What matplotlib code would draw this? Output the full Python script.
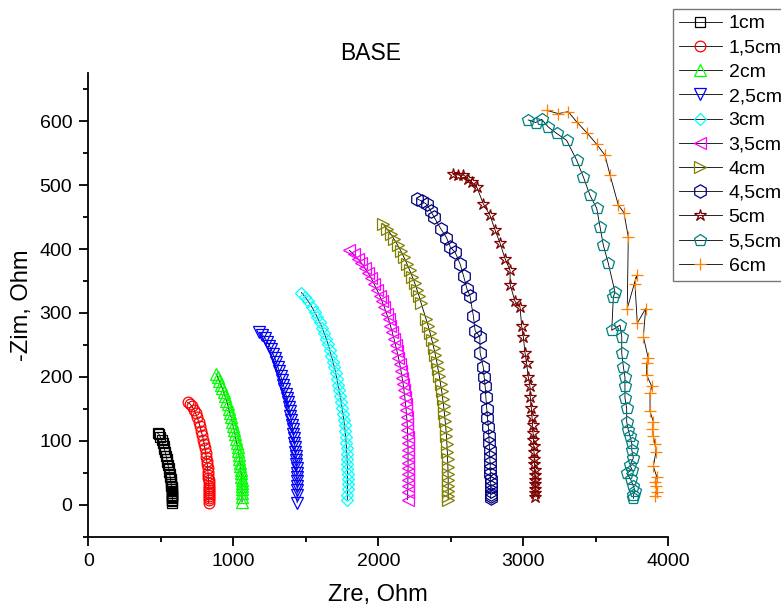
import matplotlib
matplotlib.use("Agg")
import matplotlib.pyplot as plt
from matplotlib.ticker import MultipleLocator

plt.rcParams['font.family'] = ['Liberation Sans', 'DejaVu Sans']

labels = ['1cm', '1,5cm', '2cm', '2,5cm', '3cm', '3,5cm', '4cm', '4,5cm', '5cm', '5,5cm', '6cm']

zre_1cm = [478, 488, 497, 505, 512, 519, 525, 531, 536, 541, 546, 550, 554, 558, 561, 564, 567, 569, 571, 573,
           574, 576, 577, 578, 579, 579, 580, 580, 580, 579, 577]
zim_1cm = [112, 110, 106, 101, 97, 92, 87, 82, 77, 72, 67, 62, 57, 52, 48, 44, 40, 36, 33, 30,
           27, 24, 21, 18, 16, 14, 12, 10, 8, 6, 3]

zre_15cm = [685, 700, 715, 728, 740, 751, 761, 770, 778, 786, 793, 799, 804, 809, 813, 817, 820, 823, 825, 827,
            828, 829, 830, 831, 831, 832, 832, 832, 832, 832, 831, 830]
zim_15cm = [160, 158, 154, 149, 143, 137, 130, 123, 116, 109, 102, 95, 88, 81, 75, 69, 63, 57, 52, 47,
            42, 38, 34, 30, 26, 23, 20, 17, 14, 11, 8, 3]

zre_2cm = [880, 892, 903, 914, 924, 934, 943, 952, 961, 969, 977, 985, 992, 999, 1006, 1012, 1018, 1024, 1029, 1034,
           1038, 1042, 1046, 1049, 1052, 1054, 1056, 1058, 1059, 1060, 1060, 1060, 1060, 1060]
zim_2cm = [205, 200, 194, 188, 182, 176, 170, 163, 157, 150, 143, 137, 130, 123, 117, 110, 103, 97, 90, 84,
           78, 72, 66, 60, 54, 49, 44, 39, 34, 29, 24, 18, 12, 4]

zre_25cm = [1180, 1200, 1218, 1234, 1249, 1262, 1274, 1286, 1297, 1307, 1317, 1327, 1336, 1345, 1353, 1361, 1368,
            1375, 1382, 1388, 1394, 1400, 1405, 1410, 1414, 1418, 1422, 1425, 1428, 1431, 1433, 1435, 1437, 1438,
            1439, 1440, 1440, 1440, 1440, 1440]
zim_25cm = [270, 266, 261, 255, 249, 243, 236, 230, 223, 216, 209, 202, 195, 188, 181, 174, 167,
            160, 153, 146, 139, 132, 125, 118, 111, 104, 97, 90, 83, 77, 70, 63, 57, 50,
            44, 37, 30, 23, 15, 3]

zre_3cm = [1470, 1495, 1518, 1540, 1560, 1578, 1595, 1611, 1626, 1640, 1653, 1665, 1676, 1687, 1697, 1706, 1715,
           1723, 1731, 1738, 1745, 1751, 1757, 1762, 1767, 1771, 1775, 1778, 1781, 1783, 1785, 1786, 1787, 1788,
           1788, 1788, 1788, 1787, 1786]
zim_3cm = [332, 325, 318, 310, 302, 294, 286, 277, 269, 260, 251, 242, 233, 224, 215, 206, 197,
           188, 179, 170, 160, 151, 142, 133, 124, 115, 106, 97, 88, 80, 72, 64, 56, 48,
           40, 32, 24, 16, 8]

zre_35cm = [1800, 1830, 1858, 1884, 1908, 1931, 1952, 1972, 1991, 2009, 2026, 2042, 2057, 2071, 2084, 2096, 2108,
            2119, 2129, 2139, 2148, 2156, 2164, 2171, 2177, 2183, 2188, 2192, 2196, 2199, 2201, 2203, 2204, 2205,
            2205, 2205, 2205, 2205, 2204, 2204, 2203, 2202]
zim_35cm = [398, 392, 385, 378, 370, 362, 354, 345, 336, 327, 318, 309, 299, 290, 280, 270, 260,
            250, 240, 230, 220, 210, 199, 189, 179, 168, 158, 148, 137, 127, 117, 106, 96, 86,
            76, 66, 57, 48, 39, 30, 20, 8]

zre_4cm = [2030, 2058, 2085, 2110, 2134, 2156, 2177, 2197, 2216, 2234, 2251, 2267, 2282, 2296, 2330, 2345, 2358,
           2370, 2382, 2393, 2403, 2412, 2421, 2429, 2437, 2444, 2450, 2456, 2461, 2466, 2470, 2473, 2476, 2478,
           2480, 2481, 2482, 2482, 2482, 2482, 2482]
zim_4cm = [440, 432, 424, 415, 406, 397, 387, 377, 367, 357, 347, 336, 326, 315, 290, 279, 268,
           257, 246, 235, 224, 212, 201, 189, 178, 166, 155, 143, 131, 119, 107, 95, 83, 71,
           59, 48, 38, 29, 21, 14, 8]

zre_45cm = [2265, 2300, 2334, 2360, 2385, 2430, 2470, 2497, 2530, 2565, 2588, 2612, 2632, 2655, 2668, 2700, 2702,
            2724, 2730, 2737, 2742, 2748, 2753, 2759, 2762, 2765, 2767, 2769, 2771, 2772, 2773, 2774, 2775, 2775,
            2775, 2775, 2775, 2775]
zim_45cm = [479, 475, 470, 460, 450, 432, 418, 403, 395, 376, 358, 337, 327, 296, 272, 263, 238,
            215, 200, 185, 168, 150, 135, 122, 108, 96, 85, 75, 65, 56, 48, 41, 34, 28,
            22, 17, 13, 10]

zre_5cm = [2517, 2550, 2587, 2620, 2644, 2679, 2724, 2770, 2805, 2840, 2874, 2908, 2910, 2943, 2977, 2989, 3000,
           3012, 3023, 3034, 3046, 3048, 3055, 3060, 3064, 3067, 3070, 3072, 3074, 3076, 3077, 3078, 3079, 3080,
           3080, 3080, 3080, 3080]
zim_5cm = [518, 516, 516, 510, 505, 497, 471, 453, 430, 409, 385, 367, 344, 318, 310, 279, 263,
           237, 221, 200, 185, 169, 152, 138, 125, 113, 102, 92, 82, 72, 63, 55, 47, 39,
           32, 25, 18, 12]

zre_55cm = [3034, 3085, 3127, 3172, 3230, 3299, 3368, 3414, 3460, 3506, 3529, 3552, 3586, 3632, 3621, 3610, 3667,
            3679, 3679, 3690, 3701, 3701, 3701, 3713, 3713, 3724, 3736, 3748, 3748, 3759, 3735, 3750, 3713, 3740,
            3759, 3770, 3759, 3760]
zim_55cm = [602, 598, 603, 591, 581, 570, 539, 513, 484, 464, 435, 406, 378, 333, 325, 273, 281,
            263, 237, 216, 200, 185, 167, 151, 130, 117, 107, 96, 86, 73, 62, 55, 49, 40,
            29, 22, 15, 10]

zre_6cm = [3161, 3241, 3310, 3368, 3442, 3506, 3563, 3598, 3655, 3694, 3724, 3717, 3782, 3770, 3786, 3844, 3828,
           3862, 3851, 3851, 3886, 3874, 3874, 3897, 3890, 3897, 3908, 3915, 3897, 3920, 3908, 3915, 3920, 3910]
zim_6cm = [617, 612, 615, 599, 581, 564, 547, 516, 469, 457, 419, 307, 359, 346, 284, 307, 263,
           229, 221, 203, 185, 175, 146, 130, 118, 107, 95, 83, 60, 44, 35, 29, 20, 13]

series_x = [zre_1cm, zre_15cm, zre_2cm, zre_25cm, zre_3cm, zre_35cm, zre_4cm, zre_45cm, zre_5cm, zre_55cm, zre_6cm]
series_y = [zim_1cm, zim_15cm, zim_2cm, zim_25cm, zim_3cm, zim_35cm, zim_4cm, zim_45cm, zim_5cm, zim_55cm, zim_6cm]

colors = ['#000000', '#FF0000', '#00FF00', '#0000FF', '#00FFFF', '#FF00FF',
          '#808000', '#000080', '#800000', '#008080', '#FF8000']
markers = ['s', 'o', '^', 'v', 'D', '<', '>', 'h', '*', 'p', '+']
msizes = [7.2, 7.7, 9.2, 9.2, 6.6, 9.0, 9.0, 9.6, 9.0, 8.9, 8.5]

fig = plt.figure(figsize=(7.81, 6.08), dpi=100)
ax = fig.add_axes([88.3 / 781, (608 - 536.7) / 608, (668.3 - 88.3) / 781, (536.7 - 73.3) / 608])

for xs, ys, c, m, ms, lab in zip(series_x, series_y, colors, markers, msizes, labels):
    ax.plot(xs, ys, color='black', lw=0.6, marker=m, ms=ms, mfc='none', mec=c,
            mew=0.9, label=lab)

ax.set_xlim(0, 4000)
ax.set_ylim(-50, 675)
ax.xaxis.set_major_locator(MultipleLocator(1000))
ax.xaxis.set_minor_locator(MultipleLocator(500))
ax.yaxis.set_major_locator(MultipleLocator(100))
ax.yaxis.set_minor_locator(MultipleLocator(50))
ax.set_yticks([0, 100, 200, 300, 400, 500, 600])

for s in ['top', 'right']:
    ax.spines[s].set_visible(False)
for s in ['left', 'bottom']:
    ax.spines[s].set_linewidth(1.3)

ax.tick_params(which='major', direction='out', length=6.5, width=1.3, labelsize=14, pad=5)
ax.tick_params(which='minor', direction='out', length=3.6, width=1.3)

ax.set_xlabel('Zre, Ohm', fontsize=17, labelpad=10)
ax.set_ylabel('-Zim, Ohm', fontsize=17, labelpad=5)
ax.set_title('BASE', fontsize=16.5, pad=9.5, x=0.487)

leg = fig.legend(loc='upper left', bbox_to_anchor=(673 / 781, 1 - 9 / 608), bbox_transform=fig.transFigure,
                 borderaxespad=0, fontsize=14, frameon=True, fancybox=False, numpoints=1,
                 handlelength=2.2, handletextpad=0.36, labelspacing=0.34, borderpad=0.3)
leg.get_frame().set_edgecolor('#555555')
leg.get_frame().set_linewidth(1.0)

fig.savefig('out.png', dpi=100)
